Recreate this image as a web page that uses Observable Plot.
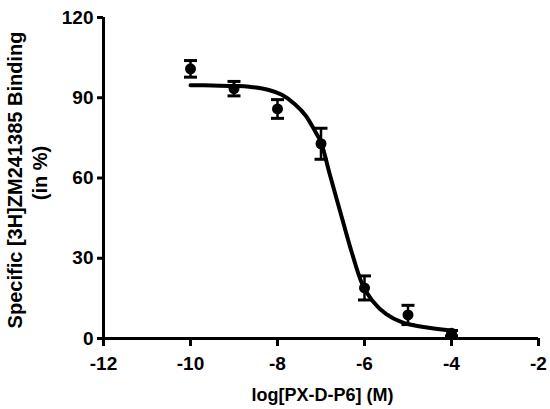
<!DOCTYPE html>
<html>
<head>
<meta charset="utf-8">
<script src="https://cdn.jsdelivr.net/npm/d3@7"></script>
<script src="https://cdn.jsdelivr.net/npm/@observablehq/plot@0.6"></script>
<style>
  html, body { margin: 0; padding: 0; background: white; }
</style>
</head>
<body>
<div id="chart"></div>
<script>
// Measured points (mean ± error)
const logConc = [-10, -9, -8, -7, -6, -5, -4];
const binding = [100.8, 93.4, 85.8, 72.8, 18.9, 8.8, 2.0];
const errors  = [3.1, 2.7, 3.5, 5.8, 4.5, 3.6, 1.0];

// Fitted curve
const fitLog     = [-10, -9.5, -9, -8.65, -8.2, -7.9, -7.6, -7.35, -7.12, -7.0, -6.8, -6.5, -6.28, -6.05, -5.82, -5.5, -5.13, -4.68, -4.0];
const fitBinding = [94.7, 94.6, 94.4, 94.1, 92.9, 91.1, 87.6, 83.3, 77.0, 73.3, 61.5, 44.0, 31.5, 20.3, 14.1, 9.1, 6.0, 4.4, 3.0];

// Axis ticks and labels
const xTicks = [-12, -10, -8, -6, -4, -2];
const yTicks = [0, 30, 60, 90, 120];
const xLabel = "log[PX-D-P6] (M)";
const yLabel1 = "Specific [3H]ZM241385 Binding";
const yLabel2 = "(in %)";

const points = logConc.map((x, i) => ({x, y: binding[i], lo: binding[i] - errors[i], hi: binding[i] + errors[i]}));
const fit = fitLog.map((x, i) => ({x, y: fitBinding[i]}));

const capSymbol = {
  draw(ctx, size) {
    const r = Math.sqrt(size / Math.PI);
    ctx.moveTo(-r, 0);
    ctx.lineTo(r, 0);
  }
};

const font = "'Liberation Sans', Arial, Helvetica, sans-serif";

const chart = Plot.plot({
  width: 550,
  height: 409,
  marginLeft: 103,
  marginRight: 12,
  marginTop: 17,
  marginBottom: 71,
  x: {domain: [-12, -2]},
  y: {domain: [0, 120]},
  style: {fontFamily: font, fontWeight: "bold", color: "black", background: "white", overflow: "visible"},
  marks: [
    Plot.axisX({ticks: xTicks, tickFormat: d => String(d), tickSize: 8, tickPadding: 10, strokeWidth: 3, fontSize: 19, fontWeight: "bold", label: null}),
    Plot.axisY({ticks: yTicks, tickFormat: d => String(d), tickSize: 6, tickPadding: 4, strokeWidth: 3, fontSize: 19, fontWeight: "bold", label: null}),
    Plot.ruleY([0], {strokeWidth: 3}),
    Plot.ruleX([-12], {strokeWidth: 3}),
    Plot.line(fit, {x: "x", y: "y", curve: "catmull-rom", strokeWidth: 4, stroke: "black"}),
    Plot.ruleX(points, {x: "x", y1: "lo", y2: "hi", strokeWidth: 2.5, stroke: "black"}),
    Plot.dot(points, {x: "x", y: "hi", symbol: capSymbol, r: 6.5, stroke: "black", strokeWidth: 3, fill: "none"}),
    Plot.dot(points, {x: "x", y: "lo", symbol: capSymbol, r: 6.5, stroke: "black", strokeWidth: 3, fill: "none"}),
    Plot.dot(points, {x: "x", y: "y", r: 5.5, fill: "black", stroke: "none"}),
    Plot.text([xLabel], {text: d => d, frameAnchor: "bottom", textAnchor: "middle", lineAnchor: "middle", dy: 57, dx: 1.5, fontSize: 18, fontWeight: "bold", letterSpacing: 1, fill: "black"}),
    Plot.text([yLabel1], {text: d => d, frameAnchor: "left", textAnchor: "middle", lineAnchor: "middle", rotate: -90, dx: -88, dy: 2, fontSize: 20, fontWeight: "bold", letterSpacing: 0.6, fill: "black"}),
    Plot.text([yLabel2], {text: d => d, frameAnchor: "left", textAnchor: "middle", lineAnchor: "middle", rotate: -90, dx: -63, dy: -5, fontSize: 20, fontWeight: "bold", fill: "black"})
  ]
});
document.getElementById("chart").appendChild(chart);
</script>
</body>
</html>
